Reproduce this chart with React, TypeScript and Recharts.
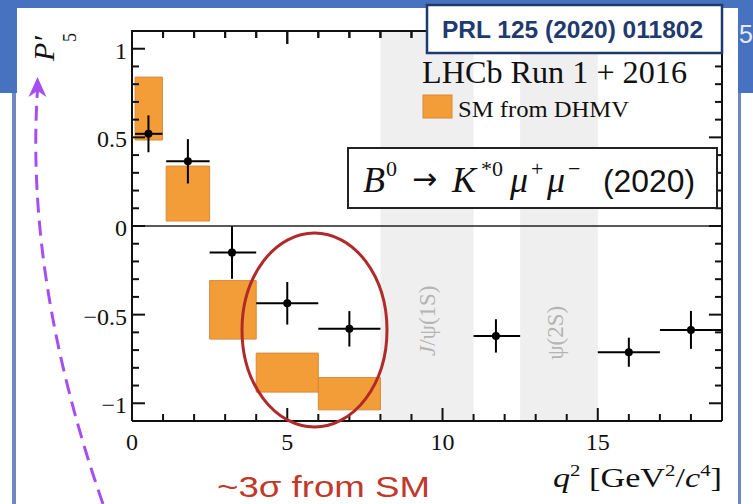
import React from 'react';
import {
  ComposedChart,
  XAxis,
  YAxis,
  Scatter,
  ErrorBar,
  ReferenceArea,
  ReferenceLine,
} from 'recharts';

// ---- data (LHCb P'5 vs q^2) ----
const pointQ = [0.53, 1.8, 3.22, 5.0, 7.0, 11.72, 16.0, 18.0];
const binLow = [0.1, 1.1, 2.5, 4.0, 6.0, 11.0, 15.0, 17.0];
const binHigh = [0.98, 2.5, 4.0, 6.0, 8.0, 12.5, 17.0, 19.0];
const p5Values = [0.52, 0.365, -0.15, -0.436, -0.58, -0.62, -0.712, -0.586];
const p5Errors = [0.104, 0.125, 0.148, 0.12, 0.1, 0.094, 0.082, 0.107];

// SM prediction (DHMV) boxes
const smLow = [0.1, 1.1, 2.5, 4.0, 6.0];
const smHigh = [0.98, 2.5, 4.0, 6.0, 8.0];
const smMin = [0.485, 0.028, -0.638, -0.937, -1.037];
const smMax = [0.84, 0.338, -0.308, -0.717, -0.855];

// charmonium vetoes
const vetoLow = [8.0, 12.5];
const vetoHigh = [11.0, 15.0];
const vetoLabels = ['J/ψ(1S)', 'ψ(2S)'];
const vetoLabelPos = [
  [0.5, 0.743],
  [0.46, 0.774],
];

// ticks
const xTicks = [0, 1, 2, 3, 4, 5, 6, 7, 8, 9, 10, 11, 12, 13, 14, 15, 16, 17, 18, 19];
const xMajor = [0, 5, 10, 15];
const yTicks = [-1, -0.9, -0.8, -0.7, -0.6, -0.5, -0.4, -0.3, -0.2, -0.1, 0, 0.1, 0.2, 0.3, 0.4, 0.5, 0.6, 0.7, 0.8, 0.9, 1];
const yMajor = [-1, -0.5, 0, 0.5, 1];
const yMajorLabels = ['−1', '−0.5', '0', '0.5', '1'];
const X_MAX = 19;
const Y_MIN = -1.1;
const Y_MAX = 1.1;

// plot frame geometry (chart margins)
const PLOT_LEFT = 132;
const PLOT_TOP = 31;
const PLOT_RIGHT = 722;

const points = pointQ.map((q, i) => ({
  q,
  p: p5Values[i],
  xErr: [q - binLow[i], binHigh[i] - q],
  yErr: p5Errors[i],
}));

const SERIF = '"Liberation Serif", "DejaVu Serif", serif';
const SANS = '"Liberation Sans", Arial, sans-serif';
const INK = '#111';

const isMajor = (v: number, majors: number[]) => majors.findIndex((m) => Math.abs(m - v) < 1e-6);

const makeTick = (side: string, majors: number[], labels: string[] | null) => (props: any) => {
  const { x, y, payload } = props;
  const v = payload.value;
  const mi = isMajor(v, majors);
  const major = mi >= 0;
  const len = major ? 13 : 7;
  let line: any = null;
  let label: any = null;
  if (side === 'left') {
    line = <line x1={x} y1={y} x2={x + len} y2={y} stroke={INK} strokeWidth={2} />;
    if (labels && major)
      label = (
        <text x={x - 5} y={y + 10} textAnchor="end" fontFamily={SERIF} fontSize={24} fill={INK}>
          {labels[mi]}
        </text>
      );
  } else if (side === 'top') {
    line = <line x1={x} y1={y} x2={x} y2={y + len} stroke={INK} strokeWidth={2} />;
  } else {
    line = <line x1={x} y1={y} x2={x} y2={y - len} stroke={INK} strokeWidth={2} />;
    if (labels && major)
      label = (
        <text x={x} y={y + 29} textAnchor="middle" fontFamily={SERIF} fontSize={24} fill={INK}>
          {labels[mi]}
        </text>
      );
  }
  return (
    <g>
      {line}
      {label}
    </g>
  );
};

const xMajorLabels = xMajor.map((v) => String(v));
const bottomTick = makeTick('bottom', xMajor, xMajorLabels);
const topTick = makeTick('top', xMajor, null);
const leftTick = makeTick('left', yMajor, yMajorLabels);

const Dot = (props: any) => {
  const { cx, cy } = props;
  return <circle cx={cx} cy={cy} r={4} fill="#000" />;
};

const vetoLabel = (i: number) => (props: any) => {
  const vb = props.viewBox || {};
  const cx = vb.x + vb.width * vetoLabelPos[i][0];
  const cy = vb.y + vb.height * vetoLabelPos[i][1];
  const txt = vetoLabels[i];
  return (
    <text
      transform={`translate(${cx},${cy}) rotate(-90)`}
      textAnchor="middle"
      dominantBaseline="central"
      fontFamily={SERIF}
      fontSize={23}
      fill="#b4b4b4"
    >
      {txt.startsWith('J') ? (
        <>
          <tspan fontStyle="italic">J</tspan>
          <tspan>{txt.slice(1)}</tspan>
        </>
      ) : (
        txt
      )}
    </text>
  );
};

export default function App() {
  const topScale = (v: number) => PLOT_LEFT + ((PLOT_RIGHT - PLOT_LEFT) * v) / X_MAX;
  return (
    <div style={{ position: 'absolute', left: 0, top: 0, width: 753, height: 504, background: '#fff', overflow: 'hidden' }}>
      {/* slide background */}
      <div style={{ position: 'absolute', left: 0, top: 0, width: 753, height: 93, background: '#4772c0' }} />
      <div style={{ position: 'absolute', left: 12, top: 93, width: 4, height: 411, background: '#6f88c4' }} />
      <div style={{ position: 'absolute', left: 737, top: 93, width: 4, height: 411, background: '#6f88c4' }} />
      <div style={{ position: 'absolute', left: 17, top: 8, width: 721, height: 496, background: '#fff' }} />
      <div
        style={{
          position: 'absolute',
          left: 739,
          top: 22,
          fontFamily: SANS,
          fontSize: 25,
          color: '#e4ebf7',
          lineHeight: '25px',
        }}
      >
        5
      </div>

      <div style={{ position: 'absolute', left: 0, top: 0 }}>
        <ComposedChart width={753} height={504} margin={{ top: 30, right: 31, left: 131, bottom: 82 }}>
          <XAxis
            xAxisId="b"
            type="number"
            dataKey="q"
            domain={[0, X_MAX]}
            allowDataOverflow
            ticks={xTicks}
            interval={0}
            height={1}
            tickSize={0}
            tickMargin={0}
            tickLine={false}
            axisLine={{ stroke: INK, strokeWidth: 2 }}
            tick={bottomTick}
          />
          <XAxis
            xAxisId="t"
            orientation="top"
            type="number"
            dataKey="q"
            domain={[0, X_MAX]}
            allowDataOverflow
            ticks={xTicks}
            interval={0}
            height={1}
            tickSize={0}
            tickMargin={0}
            tickLine={false}
            axisLine={{ stroke: INK, strokeWidth: 2 }}
            tick={topTick}
          />
          <YAxis
            yAxisId="l"
            type="number"
            dataKey="p"
            domain={[Y_MIN, Y_MAX]}
            allowDataOverflow
            ticks={yTicks}
            interval={0}
            width={1}
            tickSize={0}
            tickMargin={0}
            tickLine={false}
            axisLine={{ stroke: INK, strokeWidth: 2 }}
            tick={leftTick}
          />

          {vetoLow.map((lo, i) => (
            <ReferenceArea
              key={`veto${i}`}
              xAxisId="b"
              yAxisId="l"
              x1={lo}
              x2={vetoHigh[i]}
              y1={Y_MIN}
              y2={Y_MAX}
              fill="#efefef"
              fillOpacity={1}
              stroke="none"
              label={vetoLabel(i)}
            />
          ))}

          {smLow.map((lo, i) => (
            <ReferenceArea
              key={`sm${i}`}
              xAxisId="b"
              yAxisId="l"
              x1={lo}
              x2={smHigh[i]}
              y1={smMin[i]}
              y2={smMax[i]}
              fill="#f29d38"
              fillOpacity={1}
              stroke="#d9893a"
              strokeWidth={1}
            />
          ))}

          <ReferenceLine xAxisId="b" yAxisId="l" y={0} stroke="#222" strokeWidth={1.6} />

          {/* right-hand frame with mirrored ticks */}
          <ReferenceLine xAxisId="b" yAxisId="l" x={X_MAX} stroke={INK} strokeWidth={2} ifOverflow="visible" />
          {yTicks.map((t) => (
            <ReferenceLine
              key={`rt${t}`}
              xAxisId="b"
              yAxisId="l"
              ifOverflow="visible"
              segment={[
                { x: X_MAX - (isMajor(t, yMajor) >= 0 ? 0.42 : 0.225), y: t },
                { x: X_MAX, y: t },
              ]}
              stroke={INK}
              strokeWidth={2}
            />
          ))}

          <Scatter
            xAxisId="b"
            yAxisId="l"
            data={points}
            dataKey="p"
            fill="#000"
            shape={Dot}
            isAnimationActive={false}
          >
            <ErrorBar dataKey="xErr" direction="x" width={0} stroke="#000" strokeWidth={2} />
            <ErrorBar dataKey="yErr" direction="y" width={0} stroke="#000" strokeWidth={2} />
          </Scatter>
        </ComposedChart>
      </div>

      {/* annotations overlay */}
      <svg
        width={753}
        height={504}
        style={{ position: 'absolute', left: 0, top: 0, pointerEvents: 'none' }}
      >
        {/* top frame with inward ticks */}
        <line x1={PLOT_LEFT - 1} y1={PLOT_TOP} x2={PLOT_RIGHT + 1} y2={PLOT_TOP} stroke={INK} strokeWidth={2} />
        {xTicks.map((t) => (
          <line
            key={`tt${t}`}
            x1={topScale(t)}
            y1={PLOT_TOP}
            x2={topScale(t)}
            y2={PLOT_TOP + (isMajor(t, xMajor) >= 0 ? 13 : 7)}
            stroke={INK}
            strokeWidth={2}
          />
        ))}

        {/* y-axis title */}
        <text transform="translate(54,61) rotate(-90)" fontFamily={SERIF} fontStyle="italic" fontSize={30} fill={INK}>
          P′
        </text>
        <text transform="translate(76,42) rotate(-90)" fontFamily={SERIF} fontSize={18} fill={INK}>
          5
        </text>

        {/* x-axis title */}
        <text x={553} y={487} fontFamily={SERIF} fontSize={28} fill={INK} textLength={169} lengthAdjust="spacingAndGlyphs">
          <tspan fontStyle="italic">q</tspan>
          <tspan fontSize={17} dy={-11}>2</tspan>
          <tspan dy={11}> [GeV</tspan>
          <tspan fontSize={17} dy={-11}>2</tspan>
          <tspan dy={11}>/</tspan>
          <tspan fontStyle="italic">c</tspan>
          <tspan fontSize={17} dy={-11}>4</tspan>
          <tspan dy={11}>]</tspan>
        </text>

        {/* legend */}
        <text x={422} y={83} fontFamily={SERIF} fontSize={31} fill={INK} textLength={265} lengthAdjust="spacingAndGlyphs">
          LHCb Run 1 + 2016
        </text>
        <rect x={423} y={95} width={29} height={23} fill="#f29d38" stroke="#d9893a" strokeWidth={1} />
        <text x={458} y={117} fontFamily={SERIF} fontSize={24} fill={INK} textLength={171} lengthAdjust="spacingAndGlyphs">
          SM from DHMV
        </text>

        {/* decay box */}
        <rect x={348} y={148} width={369} height={60} fill="#fff" stroke="#222" strokeWidth={2} />
        <text y={192} fontFamily={SERIF} fill={INK}>
          <tspan x={363} fontSize={36} fontStyle="italic">B</tspan>
          <tspan x={386} y={176} fontSize={22}>0</tspan>
        </text>
        <text x={412} y={189} fontFamily='"DejaVu Sans", sans-serif' fontSize={30} fill={INK}>→</text>
        <text y={192} fontFamily={SERIF} fill={INK}>
          <tspan x={452} y={192} fontSize={36} fontStyle="italic">K</tspan>
          <tspan x={481} y={176} fontSize={22}>*0</tspan>
          <tspan x={510} y={192} fontSize={36} fontStyle="italic">μ</tspan>
          <tspan x={531} y={176} fontSize={22}>+</tspan>
          <tspan x={547} y={192} fontSize={36} fontStyle="italic">μ</tspan>
          <tspan x={568} y={176} fontSize={22}>−</tspan>
        </text>
        <text x={603} y={192} fontFamily={SANS} fontSize={31} fill={INK} textLength={92} lengthAdjust="spacingAndGlyphs">
          (2020)
        </text>

        {/* PRL reference box */}
        <rect x={427} y={5} width={295} height={48} fill="#fff" stroke="#1f3a6e" strokeWidth={2.5} />
        <text x={442} y={38} fontFamily={SANS} fontWeight="bold" fontSize={23} fill="#1f3a6e" textLength={261} lengthAdjust="spacingAndGlyphs">
          PRL 125 (2020) 011802
        </text>

        {/* highlight ellipse */}
        <ellipse cx={314.5} cy={330} rx={72.5} ry={97} fill="none" stroke="#b02a2a" strokeWidth={3} />
        <text x={217} y={497} fontFamily={SANS} fontSize={30} fill="#c0392b" textLength={213} lengthAdjust="spacingAndGlyphs">
          ~3σ from SM
        </text>

        {/* dashed arrow */}
        <path d="M 103 504 Q 25 280 37.5 90" fill="none" stroke="#a64ff0" strokeWidth={3} strokeDasharray="15 8" />
        <path d="M 37.5 77 L 46.5 97 L 37.5 91 L 28.5 97 Z" fill="#a64ff0" />
      </svg>
    </div>
  );
}
